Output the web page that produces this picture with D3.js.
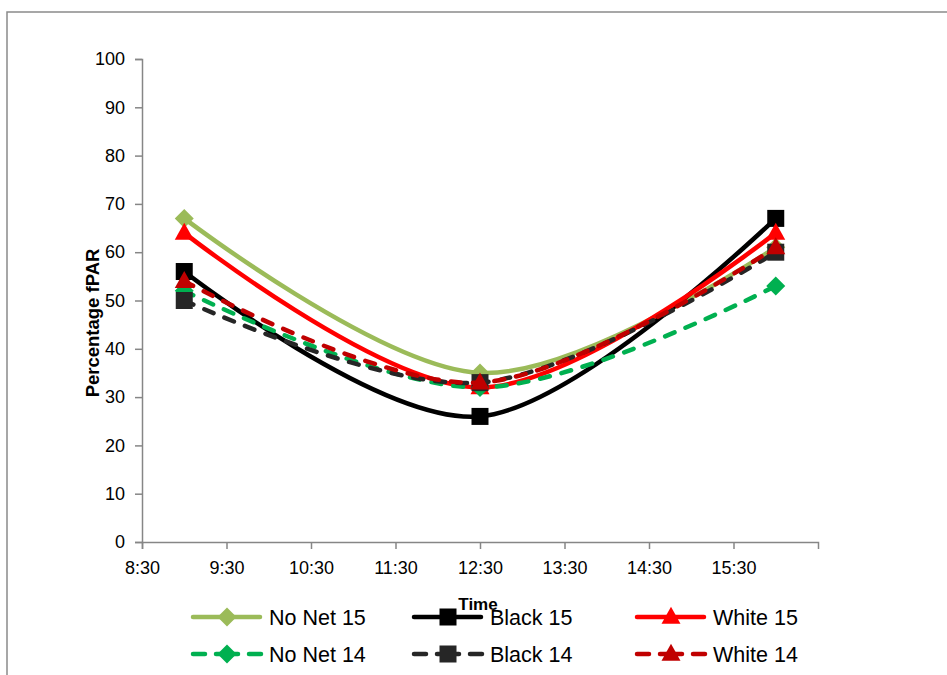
<!DOCTYPE html>
<html>
<head>
<meta charset="utf-8">
<script src="https://cdn.jsdelivr.net/npm/d3@7"></script>
<style>
  html, body { margin: 0; padding: 0; background: #fff; }
  svg { display: block; }
  text { font-family: "Liberation Sans", Arial, sans-serif; fill: #000; }
</style>
</head>
<body>
<svg id="chart" width="947" height="675"></svg>
<script>
// ---- Data ----
const times = ["9:00", "12:30", "16:00"];
const tickLabels = ["8:30", "9:30", "10:30", "11:30", "12:30", "13:30", "14:30", "15:30"];
const yTicks = [0, 10, 20, 30, 40, 50, 60, 70, 80, 90, 100];
const seriesNames = ["No Net 15", "Black 15", "White 15", "No Net 14", "Black 14", "White 14"];
const noNet15 = [67, 35, 61];
const black15 = [56, 26, 67];
const white15 = [64, 32, 64];
const noNet14 = [52, 32, 53];
const black14 = [50, 33, 60];
const white14 = [54, 33, 61];

const styles = [
  { color: "#9BBB59", dash: null, marker: "diamond" },
  { color: "#000000", dash: null, marker: "square" },
  { color: "#FF0000", dash: null, marker: "triangle" },
  { color: "#00B050", dash: "10,12", marker: "diamond" },
  { color: "#262626", dash: "10,12", marker: "square" },
  { color: "#C00000", dash: "10,12", marker: "triangle" }
];
const seriesValues = [noNet15, black15, white15, noNet14, black14, white14];
const series = seriesNames.map((name, i) => ({
  name, ...styles[i],
  points: times.map((t, j) => ({ t, v: seriesValues[i][j] }))
}));

// ---- Helpers ----
const parseT = s => { const [h, m] = s.split(":").map(Number); return new Date(2000, 0, 1, h, m); };

const svg = d3.select("#chart");
// outer chart border
svg.append("rect").attr("x", 7).attr("y", 12).attr("width", 980).attr("height", 720)
  .attr("fill", "none").attr("stroke", "#8a8a8a").attr("stroke-width", 1.5);

const pLeft = 142, pRight = 818, pTop = 59, pBottom = 542;
const x = d3.scaleTime().domain([parseT("8:30"), parseT("16:30")]).range([pLeft, pRight]);
const y = d3.scaleLinear().domain([0, 100]).range([pBottom, pTop]);

// ---- Axes ----
const axisColor = "#868686";
const yAxis = svg.append("g").attr("transform", `translate(${pLeft},0)`)
  .call(d3.axisLeft(y).tickValues(yTicks).tickSize(7).tickPadding(10));
const xAxis = svg.append("g").attr("transform", `translate(0,${pBottom})`)
  .call(d3.axisBottom(x).tickValues(tickLabels.map(parseT)).tickSize(7).tickPadding(9)
    .tickFormat((d, i) => tickLabels[i]));
[yAxis, xAxis].forEach(g => {
  g.select(".domain").attr("stroke", axisColor).attr("stroke-width", 1.5);
  g.selectAll(".tick line").attr("stroke", axisColor).attr("stroke-width", 1.5);
  g.selectAll(".tick text").attr("font-size", 18).attr("font-family", "Liberation Sans, Arial, sans-serif").attr("fill", "#000");
});
xAxis.selectAll(".tick text").attr("dy", "0.9em");

// axis titles
svg.append("text").attr("transform", "translate(99,323) rotate(-90)")
  .attr("text-anchor", "middle").attr("font-weight", "bold").attr("font-size", 18.5)
  .text("Percentage fPAR");

// ---- Lines ----
const line = d3.line().x(d => x(parseT(d.t))).y(d => y(d.v)).curve(d3.curveCatmullRom.alpha(0));

function drawMarker(g, type, cx, cy, color) {
  if (type === "diamond") {
    const r = 9.5;
    g.append("path").attr("d", `M${cx},${cy - r}L${cx + r},${cy}L${cx},${cy + r}L${cx - r},${cy}Z`).attr("fill", color);
  } else if (type === "square") {
    const s = 17;
    g.append("rect").attr("x", cx - s / 2).attr("y", cy - s / 2).attr("width", s).attr("height", s).attr("fill", color);
  } else {
    const w = 19, h = 17;
    g.append("path").attr("d", `M${cx},${cy - h * 0.6}L${cx + w / 2},${cy + h * 0.4}L${cx - w / 2},${cy + h * 0.4}Z`).attr("fill", color);
  }
}

series.forEach(s => {
  const g = svg.append("g");
  g.append("path").datum(s.points).attr("d", line)
    .attr("fill", "none").attr("stroke", s.color).attr("stroke-width", 4.5)
    .attr("stroke-linecap", "round").attr("stroke-linejoin", "round")
    .attr("stroke-dasharray", s.dash);
  s.points.forEach(p => drawMarker(g, s.marker, x(parseT(p.t)), y(p.v), s.color));
});

// ---- Legend ----
const legendCols = [191, 412, 635];
const legendRows = [617, 654];
series.forEach((s, i) => {
  const lx = legendCols[i % 3], ly = legendRows[Math.floor(i / 3)];
  const g = svg.append("g");
  if (s.dash) {
    [[2, 14], [25, 47], [58, 70]].forEach(([a, b]) => {
      g.append("line").attr("x1", lx + a).attr("x2", lx + b).attr("y1", ly).attr("y2", ly)
        .attr("stroke", s.color).attr("stroke-width", 4.5).attr("stroke-linecap", "round");
    });
  } else {
    g.append("line").attr("x1", lx + 2).attr("x2", lx + 69).attr("y1", ly).attr("y2", ly)
      .attr("stroke", s.color).attr("stroke-width", 4.5).attr("stroke-linecap", "round");
  }
  drawMarker(g, s.marker, lx + 36, ly, s.color);
  g.append("text").attr("x", lx + 78).attr("y", ly).attr("dy", "0.36em")
    .attr("font-size", 21.5).text(s.name);
});

svg.append("text").attr("x", 478).attr("y", 610).attr("text-anchor", "middle")
  .attr("font-weight", "bold").attr("font-size", 17).text("Time");
</script>
</body>
</html>
